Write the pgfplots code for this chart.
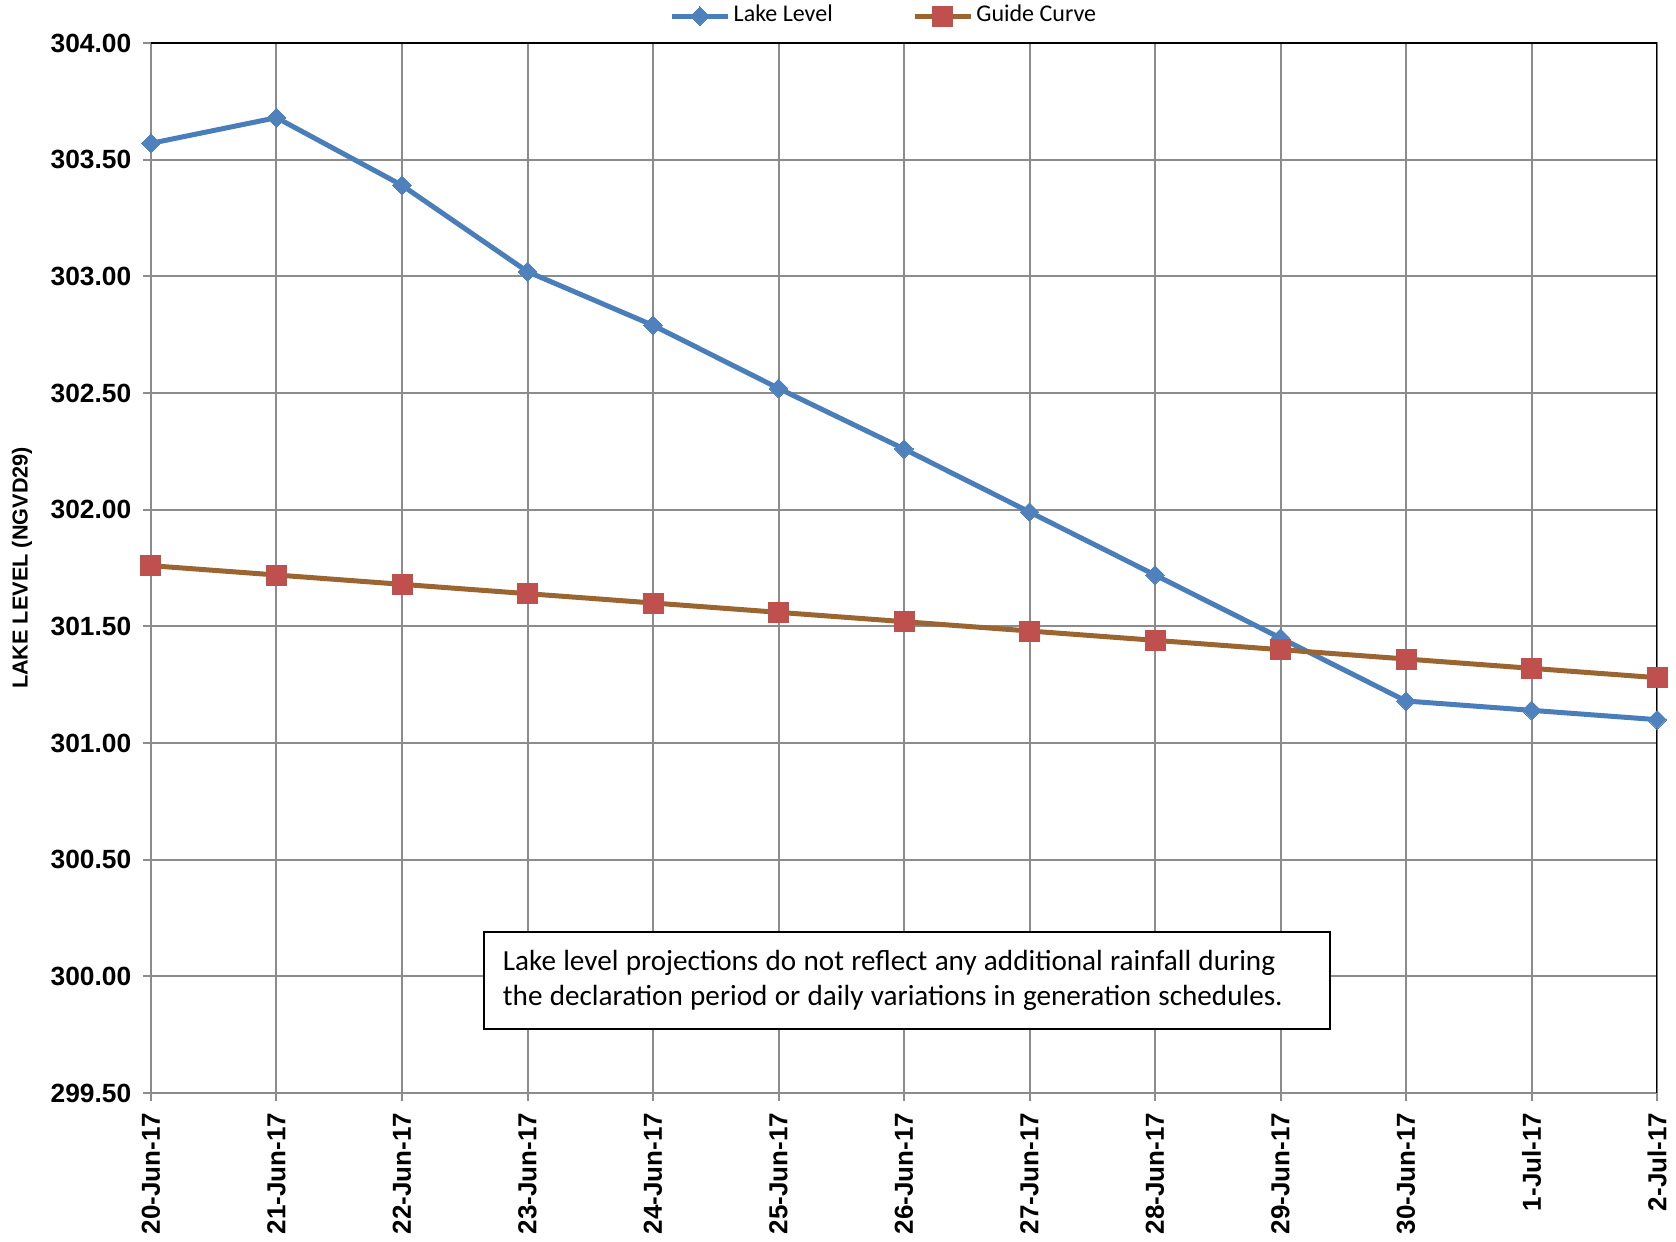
\documentclass[border=0pt]{standalone}
\usepackage{pgfplots}
\pgfplotsset{compat=1.18}
\usepackage{fontspec}
\setmainfont{Liberation Sans}
\newfontfamily\calibri{Carlito}
\newcommand\tightsp{\spaceskip 0.25em\relax}
\definecolor{llblue}{HTML}{4A7EBB}
\definecolor{llmark}{HTML}{4F81BD}
\definecolor{gcbrown}{HTML}{9A6531}
\definecolor{gcred}{HTML}{C0504D}
\definecolor{gridgray}{HTML}{8C8C8C}
\begin{document}
\begin{tikzpicture}
\begin{axis}[
  name=ax,
  scale only axis, width=451.8pt, height=315pt,
  xmin=0, xmax=12, ymin=299.5, ymax=304,
  xtick={0,1,2,3,4,5,6,7,8,9,10,11,12},
  xticklabels={20-Jun-17,21-Jun-17,22-Jun-17,23-Jun-17,24-Jun-17,25-Jun-17,26-Jun-17,27-Jun-17,28-Jun-17,29-Jun-17,30-Jun-17,1-Jul-17,2-Jul-17},
  ytick={299.5,300,300.5,301,301.5,302,302.5,303,303.5,304},
  grid=major, major grid style={gridgray, line width=0.6pt},
  axis line style={gridgray, line width=0.6pt},
  tick style={gridgray, line width=0.6pt},
  tick align=outside, major tick length=2.4pt,
  tick pos=left,
  x tick label style={rotate=90, anchor=east, font=\fontsize{7.8}{9}\selectfont\bfseries},
  y tick label style={font=\fontsize{7.9}{9}\selectfont\bfseries},
  yticklabel style={/pgf/number format/.cd, fixed, fixed zerofill, precision=2, 1000 sep={}, assume math mode=true},
  ylabel={LAKE LEVEL (NGVD29)},
  ylabel style={at={(axis description cs:-0.0857,0.5)}, anchor=center, font=\fontsize{6.5}{8}\selectfont\bfseries},
  legend columns=2,
  legend style={at={(axis description cs:0.487,1.0256)}, anchor=center, draw=none, fill=none,
    font=\calibri\fontsize{7.2}{8.5}\selectfont, inner sep=0pt,
    /tikz/every even column/.append style={column sep=22.8pt},
    nodes={inner sep=1pt}},
  legend image code/.code={\draw[mark repeat=2,mark phase=2,#1] plot coordinates {(0pt,0pt) (8.4pt,0pt) (16.8pt,0pt)};},
]
\addplot[color=llblue, line width=1.5pt, mark=square*, mark size=2pt,
  mark options={rotate=45, fill=llmark, draw=llmark, line width=0pt}]
  coordinates {(0,303.57) (1,303.68) (2,303.39) (3,303.02) (4,302.79) (5,302.52) (6,302.26) (7,301.99) (8,301.72) (9,301.45) (10,301.18) (11,301.14) (12,301.10)};
\addlegendentry{Lake Level}
\addplot[color=gcbrown, line width=1.5pt, mark=square*, mark size=3pt,
  mark options={fill=gcred, draw=gcred, line width=0pt}]
  coordinates {(0,301.76) (1,301.72) (2,301.68) (3,301.64) (4,301.60) (5,301.56) (6,301.52) (7,301.48) (8,301.44) (9,301.40) (10,301.36) (11,301.32) (12,301.28)};
\addlegendentry{Guide Curve}
\draw[black, line width=0.9pt] (rel axis cs:0,1) -- (rel axis cs:1,1) -- (rel axis cs:1,0);
\node[draw=black, fill=white, line width=0.6pt, anchor=north west,
  minimum width=253.8pt, minimum height=29pt, text width=242.4pt, inner xsep=5.7pt,
  align=flush left, font=\calibri\fontsize{8.75}{10.6}\selectfont]
  at (axis cs:2.645,300.194)
  {\tightsp Lake level projections do not reflect any additional rainfall during\\\tightsp the declaration period or daily variations in generation schedules.};
\end{axis}
\pgfresetboundingbox
\path ([shift={(-45.3pt,-44.4pt)}]ax.south west) rectangle ([shift={(5.7pt,12.9pt)}]ax.north east);
\end{tikzpicture}
\end{document}
